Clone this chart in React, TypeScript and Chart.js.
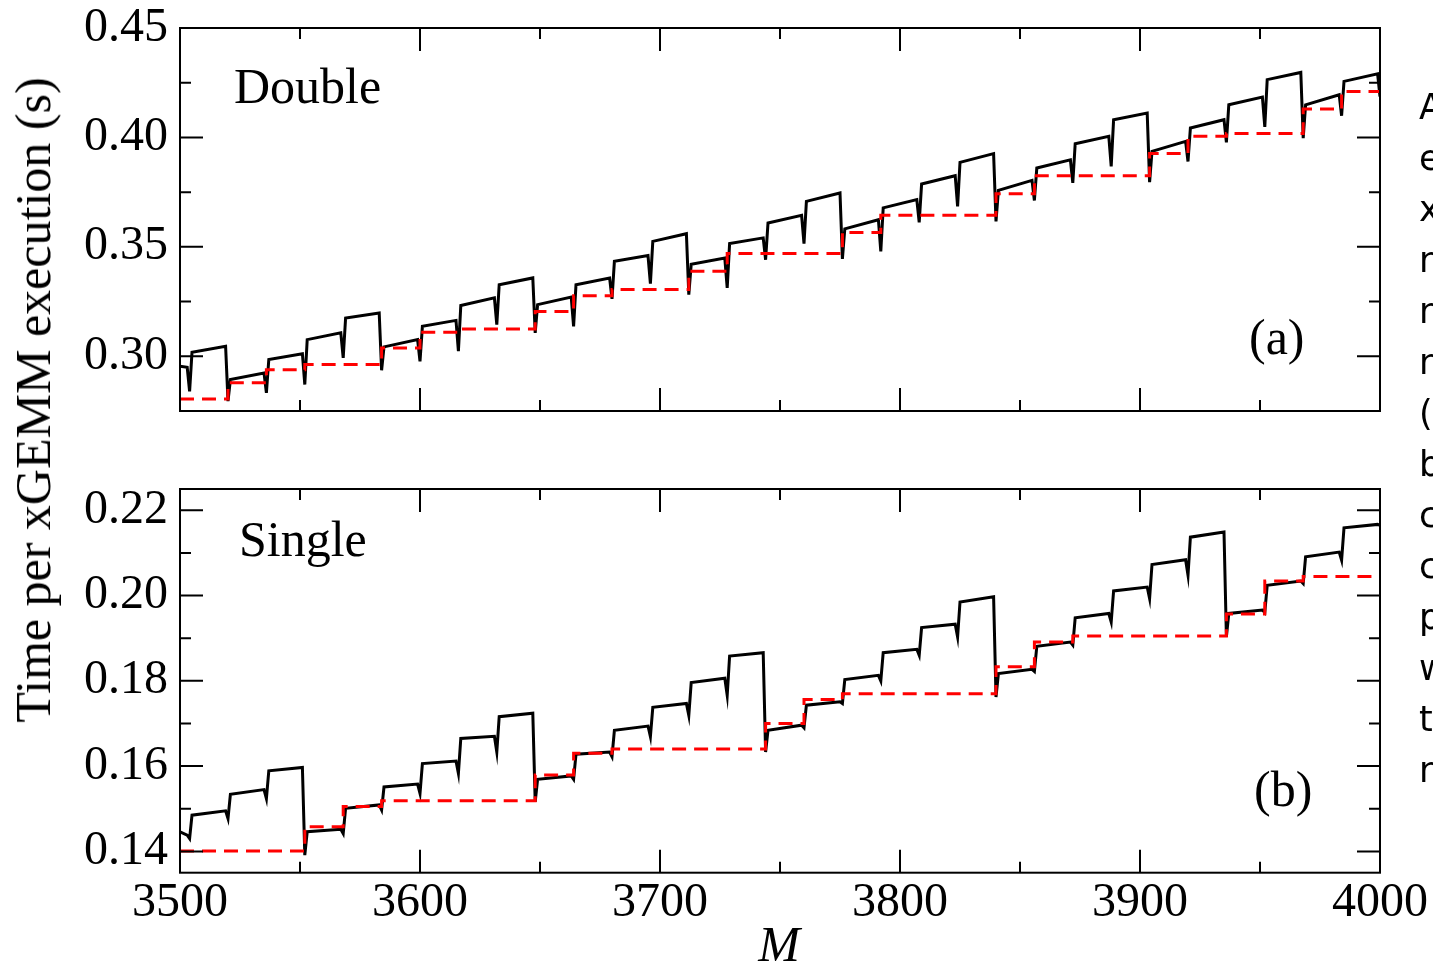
import React, { useEffect, useRef } from 'react';
import { Chart, registerables } from 'chart.js';

Chart.register(...registerables);

// ---------- data ----------
// matrix size M at which the measured curves were sampled (segment ends / boundary dips)
const sampleM = [
  3500, 3503,
  3504, 3505, 3519, 3520, 3521, 3535, 3536, 3537, 3551, 3552, 3553, 3567,
  3568, 3569, 3583, 3584, 3585, 3599, 3600, 3601, 3615, 3616, 3617, 3631,
  3632, 3633, 3647, 3648, 3649, 3663, 3664, 3665, 3679, 3680, 3681, 3695,
  3696, 3697, 3711, 3712, 3713, 3727, 3728, 3729, 3743, 3744, 3745, 3759,
  3760, 3761, 3775, 3776, 3777, 3791, 3792, 3793, 3807, 3808, 3809, 3823,
  3824, 3825, 3839, 3840, 3841, 3855, 3856, 3857, 3871, 3872, 3873, 3887,
  3888, 3889, 3903, 3904, 3905, 3919, 3920, 3921, 3935, 3936, 3937, 3951,
  3952, 3953, 3967, 3968, 3969, 3983, 3984, 3985, 3999,
  4000,
];

// measured time, double precision (s)
const doubleTime = [
  0.2954, 0.2950,
  0.2840, 0.3018, 0.3046, 0.2795, 0.2894, 0.2924, 0.2833, 0.2985, 0.3012, 0.2871, 0.3076, 0.3107,
  0.2993, 0.3175, 0.3198, 0.2936, 0.3043, 0.3076, 0.2977, 0.3137, 0.3164, 0.3023, 0.3232, 0.3267,
  0.3145, 0.3327, 0.3358, 0.3107, 0.3236, 0.3271, 0.3137, 0.3327, 0.3358, 0.3262, 0.3434, 0.3460,
  0.3332, 0.3525, 0.3560, 0.3282, 0.3420, 0.3449, 0.3312, 0.3515, 0.3541, 0.3441, 0.3609, 0.3644,
  0.3515, 0.3708, 0.3746, 0.3445, 0.3582, 0.3624, 0.3479, 0.3678, 0.3716, 0.3612, 0.3787, 0.3825,
  0.3685, 0.3886, 0.3926, 0.3616, 0.3758, 0.3804, 0.3712, 0.3860, 0.3898, 0.3792, 0.3971, 0.4005,
  0.3868, 0.4081, 0.4111, 0.3796, 0.3936, 0.3982, 0.3890, 0.4043, 0.4081, 0.3977, 0.4149, 0.4184,
  0.4048, 0.4264, 0.4297, 0.3997, 0.4149, 0.4195, 0.4099, 0.4256, 0.4291,
  0.4187,
];

// measured time, single precision (s)
const singleTime = [
  0.1446, 0.1438,
  0.1430, 0.1485, 0.1495, 0.1477, 0.1534, 0.1545, 0.1524, 0.1589, 0.1597, 0.1391, 0.1446, 0.1452,
  0.1442, 0.1501, 0.1509, 0.1497, 0.1551, 0.1558, 0.1536, 0.1606, 0.1612, 0.1583, 0.1665, 0.1670,
  0.1633, 0.1716, 0.1724, 0.1516, 0.1569, 0.1577, 0.1569, 0.1628, 0.1633, 0.1622, 0.1684, 0.1694,
  0.1669, 0.1738, 0.1747, 0.1719, 0.1796, 0.1806, 0.1766, 0.1858, 0.1866, 0.1633, 0.1684, 0.1696,
  0.1690, 0.1743, 0.1751, 0.1747, 0.1803, 0.1813, 0.1800, 0.1866, 0.1874, 0.1860, 0.1925, 0.1933,
  0.1903, 0.1985, 0.1997, 0.1762, 0.1817, 0.1827, 0.1822, 0.1881, 0.1891, 0.1884, 0.1948, 0.1958,
  0.1938, 0.2011, 0.2020, 0.1993, 0.2073, 0.2084, 0.2048, 0.2137, 0.2149, 0.1903, 0.1958, 0.1966,
  0.1960, 0.2024, 0.2034, 0.2028, 0.2091, 0.2102, 0.2083, 0.2159, 0.2167,
  0.2165,
];

// model (red dashed step line)
const doubleModelM = [3500, 3520, 3536, 3552, 3584, 3600, 3616, 3648, 3664, 3680, 3712, 3728, 3776, 3792, 3840, 3856, 3904, 3920, 3936, 3968, 3984, 4000];
const doubleModelTime = [0.2805, 0.2879, 0.2939, 0.2962, 0.3038, 0.3110, 0.3125, 0.3205, 0.3277, 0.3305, 0.3388, 0.3470, 0.3566, 0.3644, 0.3743, 0.3825, 0.3926, 0.4005, 0.4018, 0.4130, 0.4210, 0.4210];
const singleModelM = [3500, 3552, 3568, 3584, 3648, 3664, 3680, 3744, 3760, 3776, 3840, 3856, 3872, 3936, 3952, 3968, 4000];
const singleModelTime = [0.1401, 0.1458, 0.1505, 0.1519, 0.1579, 0.1630, 0.1640, 0.1700, 0.1756, 0.1770, 0.1833, 0.1891, 0.1905, 0.1957, 0.2034, 0.2045, 0.2045];

// ticks
const xMajorTicks = [3500, 3600, 3700, 3800, 3900, 4000];
const xMinorTicks = [3550, 3650, 3750, 3850, 3950];
const doubleMajorTicks = [0.30, 0.35, 0.40, 0.45];
const doubleMinorTicks = [0.325, 0.375, 0.425];
const singleMajorTicks = [0.14, 0.16, 0.18, 0.20, 0.22];
const singleMinorTicks = [0.15, 0.17, 0.19, 0.21];

// text
const yTitle = 'Time per xGEMM execution (s)';
const xTitle = 'M';
const sideText = ['A', 'e', 'x', 'n', 'n', 'n', '(', 'b', 'c', 'c', 'p', 'w', 't', 'n'];

const SERIF = '"Liberation Serif", "Times New Roman", Times, serif';
const W = 1433;

type Label = { text: string; x: number; y: number; font: string; align?: CanvasTextAlign };

type PanelProps = {
  top: number;
  height: number;
  padTop: number;
  padBottom: number;
  showXAxis: boolean;
  xAxisHeight: number;
  yMin: number;
  yMax: number;
  yMajor: number[];
  yMinor: number[];
  measM: number[];
  measT: number[];
  modelM: number[];
  modelT: number[];
  labels: Label[];
};

function Panel(p: PanelProps) {
  const ref = useRef<HTMLCanvasElement | null>(null);
  useEffect(() => {
    const canvas = ref.current;
    if (!canvas) return;
    const framePlugin = {
      id: 'frameTicks',
      afterDraw(chart: any) {
        const { ctx, chartArea: a } = chart;
        const xs = chart.scales.x;
        const ys = chart.scales.y;
        ctx.save();
        ctx.strokeStyle = '#000';
        ctx.lineWidth = 2;
        ctx.lineCap = 'butt';
        ctx.beginPath();
        const vt = (vals: number[], len: number) =>
          vals.forEach((v) => {
            const px = xs.getPixelForValue(v);
            ctx.moveTo(px, a.bottom);
            ctx.lineTo(px, a.bottom - len);
            ctx.moveTo(px, a.top);
            ctx.lineTo(px, a.top + len);
          });
        const ht = (vals: number[], len: number) =>
          vals.forEach((v) => {
            const py = ys.getPixelForValue(v);
            ctx.moveTo(a.left, py);
            ctx.lineTo(a.left + len, py);
            ctx.moveTo(a.right, py);
            ctx.lineTo(a.right - len, py);
          });
        vt(xMajorTicks, 23);
        vt(xMinorTicks, 11);
        ht(p.yMajor, 23);
        ht(p.yMinor, 11);
        ctx.stroke();
        ctx.strokeRect(a.left, a.top, a.right - a.left, a.bottom - a.top);
        p.labels.forEach((l) => {
          ctx.font = l.font;
          ctx.fillStyle = '#000';
          ctx.textAlign = l.align || 'left';
          ctx.textBaseline = 'alphabetic';
          ctx.fillText(l.text, l.x, l.y);
        });
        ctx.restore();
      },
    };

    const tickFont = { family: SERIF, size: 48, lineHeight: 1 };
    const chart = new Chart(canvas, {
      type: 'line',
      data: {
        datasets: [
          {
            label: 'model',
            data: p.modelM.map((m, i) => ({ x: m, y: p.modelT[i] })),
            borderColor: '#ff0000',
            borderWidth: 3,
            borderDash: [14, 8],
            stepped: true,
            pointRadius: 0,
            fill: false,
          },
          {
            label: 'measured',
            data: p.measM.map((m, i) => ({ x: m, y: p.measT[i] })),
            borderColor: '#000000',
            borderWidth: 3,
            pointRadius: 0,
            tension: 0,
            fill: false,
          },
        ],
      } as any,
      options: {
        animation: false,
        responsive: false,
        devicePixelRatio: 1,
        events: [],
        layout: { padding: { left: 0, right: 53, top: p.padTop, bottom: p.padBottom } },
        plugins: { legend: { display: false }, tooltip: { enabled: false }, title: { display: false } },
        scales: {
          x: {
            type: 'linear',
            min: 3500,
            max: 4000,
            display: p.showXAxis,
            grid: { display: false, drawTicks: false },
            border: { display: false },
            ticks: {
              autoSkip: false,
              maxRotation: 0,
              padding: 7,
              color: '#000',
              font: tickFont,
              callback: (v: any) => String(v),
            },
            afterBuildTicks: (s: any) => {
              s.ticks = xMajorTicks.map((v) => ({ value: v }));
            },
            afterFit: (s: any) => {
              s.height = p.xAxisHeight;
              s.paddingLeft = 0;
              s.paddingRight = 0;
            },
          },
          y: {
            type: 'linear',
            min: p.yMin,
            max: p.yMax,
            grid: { display: false, drawTicks: false },
            border: { display: false },
            ticks: {
              autoSkip: false,
              padding: 12,
              color: '#000',
              font: tickFont,
              callback: (v: any) => Number(v).toFixed(2),
            },
            afterBuildTicks: (s: any) => {
              s.ticks = p.yMajor.map((v) => ({ value: v }));
            },
            afterFit: (s: any) => {
              s.width = 180;
              s.paddingTop = 0;
              s.paddingBottom = 0;
            },
          },
        },
      } as any,
      plugins: [framePlugin],
    });
    return () => chart.destroy();
  }, []);

  return (
    <canvas
      ref={ref}
      width={W}
      height={p.height}
      style={{ position: 'absolute', left: 0, top: p.top, width: W, height: p.height, display: 'block' }}
    />
  );
}

export default function App() {
  return (
    <div
      style={{
        position: 'absolute',
        left: 0,
        top: 0,
        width: W,
        height: 968,
        overflow: 'hidden',
        background: '#fff',
      }}
    >
      <Panel
        top={0}
        height={440}
        padTop={28}
        padBottom={29}
        showXAxis={false}
        xAxisHeight={0}
        yMin={0.275}
        yMax={0.45}
        yMajor={doubleMajorTicks}
        yMinor={doubleMinorTicks}
        measM={sampleM}
        measT={doubleTime}
        modelM={doubleModelM}
        modelT={doubleModelTime}
        labels={[
          { text: 'Double', x: 234, y: 103, font: `50px ${SERIF}` },
          { text: '(a)', x: 1249, y: 354, font: `50px ${SERIF}` },
        ]}
      />
      <Panel
        top={440}
        height={528}
        padTop={49}
        padBottom={0}
        showXAxis={true}
        xAxisHeight={95.3}
        yMin={0.135}
        yMax={0.225}
        yMajor={singleMajorTicks}
        yMinor={singleMinorTicks}
        measM={sampleM}
        measT={singleTime}
        modelM={singleModelM}
        modelT={singleModelTime}
        labels={[
          { text: 'Single', x: 239, y: 116, font: `50px ${SERIF}` },
          { text: '(b)', x: 1254, y: 366, font: `50px ${SERIF}` },
          { text: xTitle, x: 779, y: 521, font: `italic 50px ${SERIF}`, align: 'center' },
        ]}
      />
      <div
        style={{
          position: 'absolute',
          left: 33,
          top: 400,
          transform: 'translate(-50%, -50%) rotate(-90deg)',
          whiteSpace: 'nowrap',
          fontFamily: SERIF,
          fontSize: 50,
          lineHeight: '50px',
          color: '#000',
        }}
      >
        {yTitle}
      </div>
      <div
        style={{
          position: 'absolute',
          left: 1419,
          top: 82,
          width: W - 1419,
          overflow: 'hidden',
          fontFamily: '"DejaVu Sans", "Open Sans", sans-serif',
          fontSize: 35,
          lineHeight: '51px',
          color: '#000',
          whiteSpace: 'pre',
        }}
      >
        {sideText.map((t, i) => (
          <div key={i}>{t}</div>
        ))}
      </div>
    </div>
  );
}
